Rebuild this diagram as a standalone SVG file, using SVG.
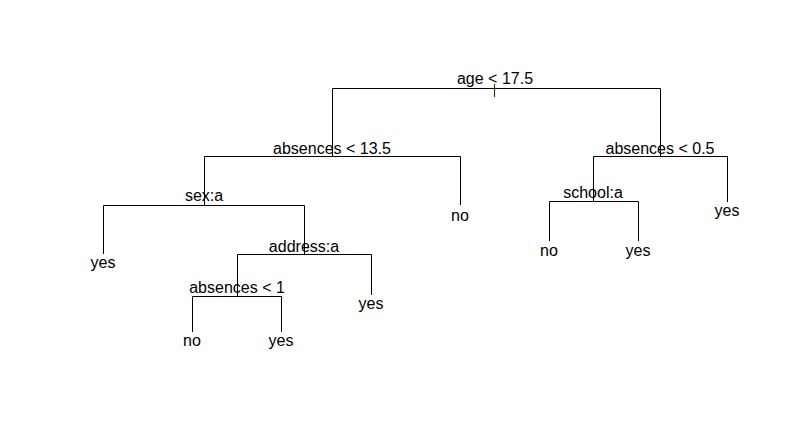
<svg xmlns="http://www.w3.org/2000/svg" width="793" height="439" viewBox="0 0 793 439">
<style>
text{font-family:"Liberation Sans",Arial,sans-serif;font-size:16px;fill:#000;text-anchor:middle}
.c{fill:none;stroke:#000;stroke-width:1}
.tick{stroke:#1f3f1f;stroke-width:1.2}
</style>
<rect width="793" height="439" fill="#fff"/>
<g id="connectors" class="c">
<path d="M332.5,156 V88.5 H660.5 V156"/>
<path d="M204.5,205 V156.5 H460.5 V205"/>
<path d="M593.5,201 V156.5 H727.5 V202"/>
<path d="M103.5,254 V205.5 H304.5 V254"/>
<path d="M237.5,296 V254.5 H371.5 V295"/>
<path d="M192.5,332 V296.5 H281.5 V332"/>
<path d="M549.5,241 V201.5 H638.5 V241"/>
<line class="tick" x1="494.5" y1="84" x2="494.5" y2="97"/>
</g>
<g id="n_root"><text x="495" y="84">age &lt; 17.5</text></g>
<g id="n_abs135"><text x="332" y="154">absences &lt; 13.5</text></g>
<g id="n_abs05"><text x="660" y="154">absences &lt; 0.5</text></g>
<g id="n_sex"><text x="204" y="201">sex:a</text></g>
<g id="n_leaf_no1"><text x="460" y="221">no</text></g>
<g id="n_leaf_yes1"><text x="103" y="268">yes</text></g>
<g id="n_address"><text x="304" y="252">address:a</text></g>
<g id="n_abs1"><text x="237" y="293">absences &lt; 1</text></g>
<g id="n_leaf_yes2"><text x="371" y="309">yes</text></g>
<g id="n_leaf_no2"><text x="192" y="346">no</text></g>
<g id="n_leaf_yes3"><text x="281" y="346">yes</text></g>
<g id="n_school"><text x="593" y="198">school:a</text></g>
<g id="n_leaf_yes4"><text x="727" y="216">yes</text></g>
<g id="n_leaf_no3"><text x="549" y="256">no</text></g>
<g id="n_leaf_yes5"><text x="638" y="256">yes</text></g>
</svg>
